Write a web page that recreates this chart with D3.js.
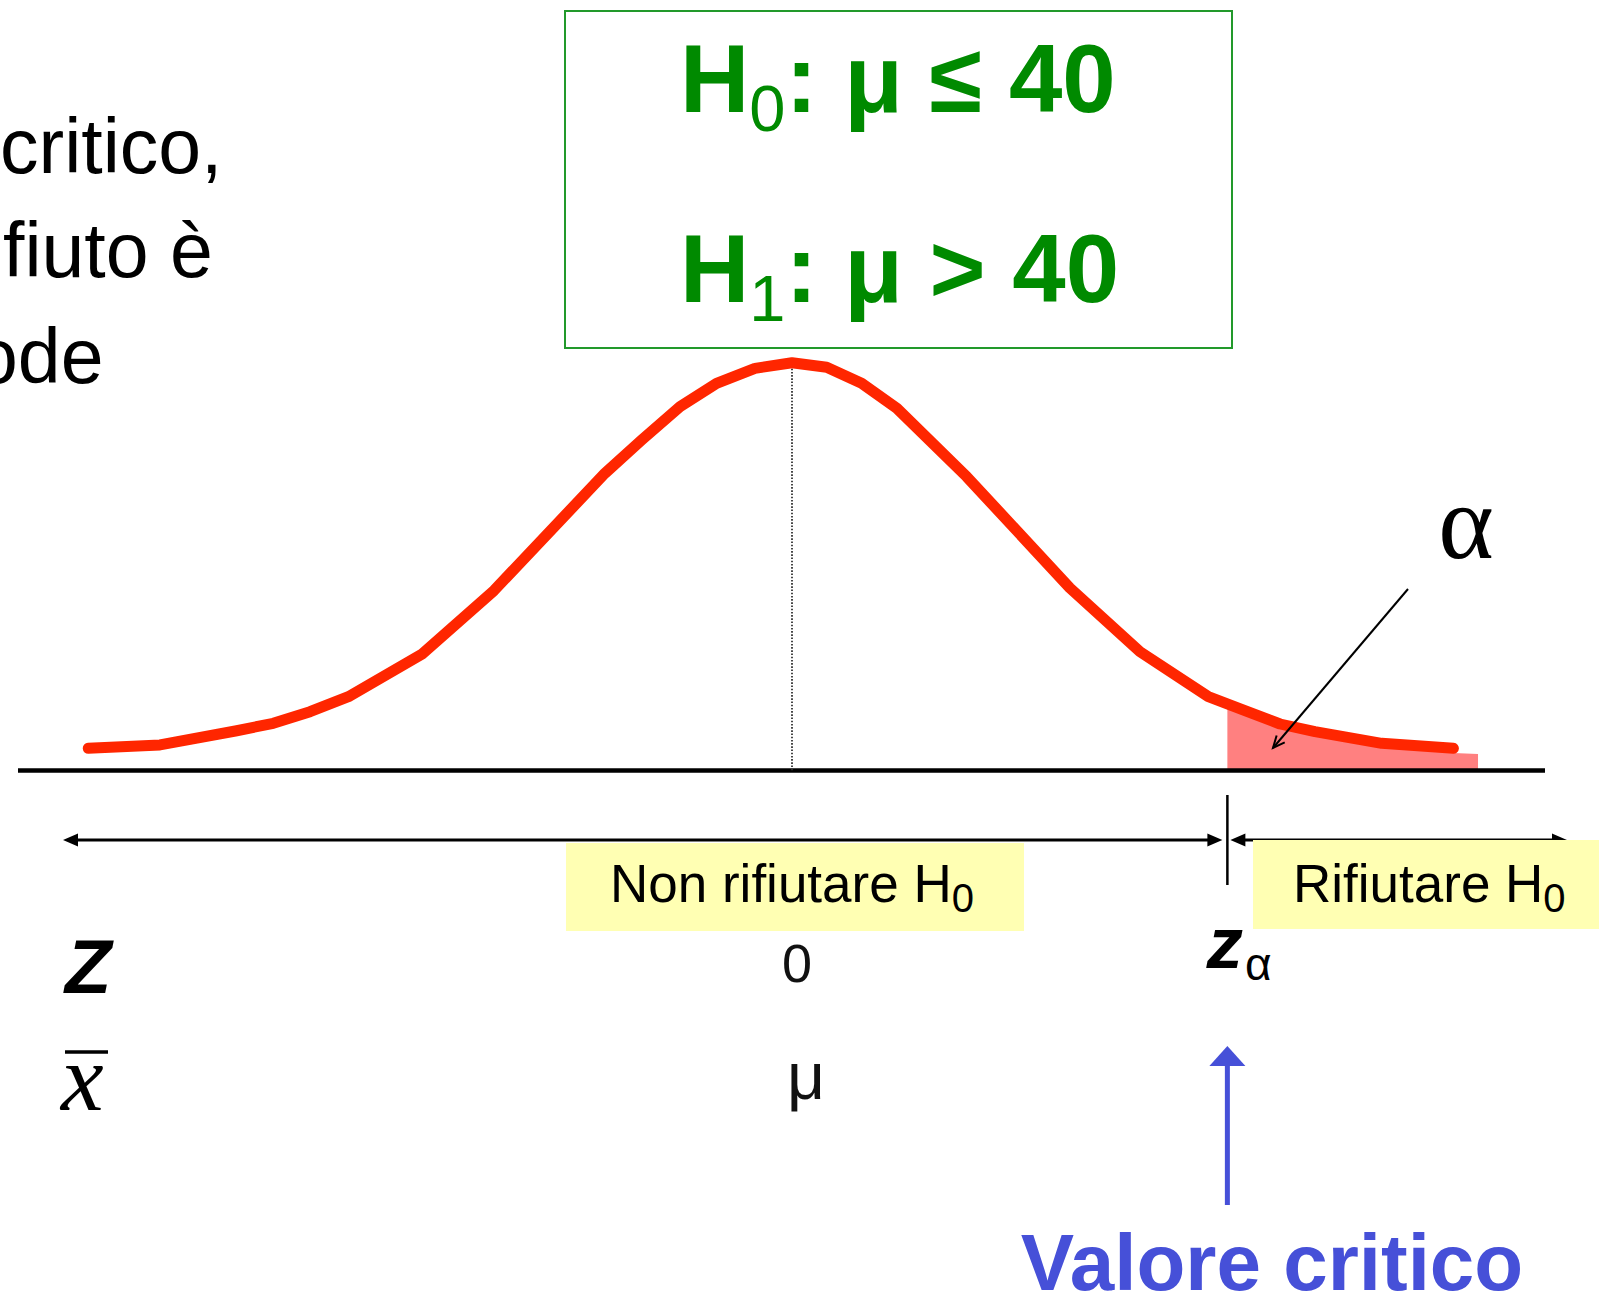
<!DOCTYPE html>
<html>
<head>
<meta charset="utf-8">
<script src="https://cdn.jsdelivr.net/npm/d3@7"></script>
<style>
  html, body { margin: 0; padding: 0; background: #ffffff; }
  svg { display: block; }
</style>
</head>
<body>
<svg id="chart" width="1599" height="1294"></svg>
<script>
// ---------- data ----------
// normal curve, z in standard units, density height
const curveZ = [-2.659, -2.388, -2.098, -1.960, -1.821, -1.676, -1.399, -1.126, -0.707, -0.568, -0.423, -0.285, -0.140, 0.000,
                0.131, 0.263, 0.396, 0.660, 1.050, 1.315, 1.573, 1.699, 1.844, 1.976, 2.228, 2.499];
const curveD = [0.0217, 0.0250, 0.0389, 0.0462, 0.0575, 0.0722, 0.1137, 0.1761, 0.2908, 0.3234, 0.3560, 0.3789, 0.3935, 0.3990,
                0.3945, 0.3789, 0.3544, 0.2875, 0.1786, 0.1162, 0.0722, 0.0599, 0.0455, 0.0380, 0.0266, 0.0217];
// rejection tail (alpha area)
const tailZ = [1.645, 1.699, 1.844, 1.976, 2.228, 2.499, 2.592];
const tailD = [0.0650, 0.0599, 0.0455, 0.0380, 0.0240, 0.0171, 0.0161];
const zAlpha = 1.645;
const zTickLabels = ["0", "z", "α"];
const regionLabels = ["Non rifiutare H", "Rifiutare H"];
const hypotheses = [["H", "0", ": μ ≤ 40"], ["H", "1", ": μ > 40"]];
const sideText = ["critico,", "fiuto è", "ode"];

// ---------- layout ----------
const svg = d3.select("#chart");
const x = d3.scaleLinear().domain([-3, 3]).range([-2, 1586]);
const y = d3.scaleLinear().domain([0, 0.4]).range([770.5, 361.7]);
const axisY = y(0);
const sans = "'Liberation Sans', Arial, Helvetica, sans-serif";
const serif = "'Liberation Serif', 'Times New Roman', serif";

// left cut-off paragraph
const sideX = [0, 3, -25];
const sideBase = [173, 277, 383];
svg.append("g").selectAll("text").data(sideText).join("text")
  .attr("x", (d, i) => sideX[i]).attr("y", (d, i) => sideBase[i])
  .attr("font-family", sans).attr("font-size", 77).attr("fill", "#000")
  .text(d => d);

// hypotheses box
svg.append("rect").attr("x", 565).attr("y", 11).attr("width", 667).attr("height", 337)
  .attr("fill", "none").attr("stroke", "#22992b").attr("stroke-width", 2);
const hBase = [112, 302];
hypotheses.forEach((h, i) => {
  const t = svg.append("text").attr("x", 680).attr("y", hBase[i])
    .attr("font-family", sans).attr("font-weight", "bold").attr("font-size", 96).attr("fill", "#008a00");
  t.append("tspan").text(h[0]);
  t.append("tspan").attr("font-size", 65).attr("font-weight", "normal").attr("dy", 19).text(h[1]);
  t.append("tspan").attr("dy", -19).text(h[2]);
});

// tail area
const tail = tailZ.map((z, i) => ({ z, d: tailD[i] }));
svg.append("path").datum(tail)
  .attr("d", d3.area().x(d => x(d.z)).y0(axisY).y1(d => y(d.d)))
  .attr("fill", "#ff8080");

// baseline
svg.append("line").attr("x1", 18).attr("x2", 1545).attr("y1", axisY).attr("y2", axisY)
  .attr("stroke", "#000").attr("stroke-width", 4.5);

// dotted mean line
svg.append("line").attr("x1", x(0)).attr("x2", x(0)).attr("y1", y(curveD[13]) + 6).attr("y2", axisY)
  .attr("stroke", "#333").attr("stroke-width", 1.8).attr("stroke-dasharray", "1.6,1.6");

// curve
const pts = curveZ.map((z, i) => ({ z, d: curveD[i] }));
svg.append("path").datum(pts)
  .attr("d", d3.line().x(d => x(d.z)).y(d => y(d.d)))
  .attr("fill", "none").attr("stroke", "#ff2600").attr("stroke-width", 11)
  .attr("stroke-linecap", "round").attr("stroke-linejoin", "round");

// alpha pointer
const ax1 = 1408, ay1 = 589, ax2 = 1273, ay2 = 748;
svg.append("line").attr("x1", ax1).attr("y1", ay1).attr("x2", ax2).attr("y2", ay2)
  .attr("stroke", "#000").attr("stroke-width", 2);
(function () {
  const ang = Math.atan2(ay2 - ay1, ax2 - ax1), L = 13, W = 0.42;
  const p1 = [ax2 - L * Math.cos(ang - W), ay2 - L * Math.sin(ang - W)];
  const p2 = [ax2 - L * Math.cos(ang + W), ay2 - L * Math.sin(ang + W)];
  svg.append("path").attr("d", `M${p1}L${ax2},${ay2}L${p2}`)
    .attr("fill", "none").attr("stroke", "#000").attr("stroke-width", 2);
})();
svg.append("text").attr("x", 1466).attr("y", 558).attr("text-anchor", "middle")
  .attr("font-family", serif).attr("font-size", 106).attr("fill", "#000").text("α");

// region arrows
const arrowY = 840;
const xa = x(zAlpha);
function head(tipX, tipY, dir, color, len, hw) {
  svg.append("path")
    .attr("d", `M${tipX},${tipY}L${tipX - dir * len},${tipY - hw}L${tipX - dir * len},${tipY + hw}Z`)
    .attr("fill", color);
}
svg.append("line").attr("x1", 70).attr("x2", xa - 12).attr("y1", arrowY).attr("y2", arrowY)
  .attr("stroke", "#000").attr("stroke-width", 3.2);
head(63, arrowY, -1, "#000", 15, 6.5);
head(xa - 5, arrowY, 1, "#000", 15, 6.5);
svg.append("line").attr("x1", xa + 12).attr("x2", 1558).attr("y1", arrowY).attr("y2", arrowY)
  .attr("stroke", "#000").attr("stroke-width", 3.2);
head(xa + 3, arrowY, -1, "#000", 15, 6.5);
head(1567, arrowY, 1, "#000", 15, 6.5);
svg.append("line").attr("x1", xa).attr("x2", xa).attr("y1", 795).attr("y2", 885)
  .attr("stroke", "#000").attr("stroke-width", 2.5);

// region labels
const boxX = [566, 1253], boxW = [458, 346], boxY = [843, 840], boxH = [88, 89], textX = [610, 1293];
regionLabels.forEach((lab, i) => {
  svg.append("rect").attr("x", boxX[i]).attr("y", boxY[i]).attr("width", boxW[i]).attr("height", boxH[i])
    .attr("fill", "#ffffb3");
  const t = svg.append("text").attr("x", textX[i]).attr("y", 902)
    .attr("font-family", sans).attr("font-size", 53).attr("fill", "#000");
  t.append("tspan").text(lab);
  t.append("tspan").attr("font-size", 40).attr("dy", 10).text("0");
});

// scale labels
svg.append("text").attr("x", x(0) + 5).attr("y", 982).attr("text-anchor", "middle")
  .attr("font-family", sans).attr("font-size", 54).attr("fill", "#111").text(zTickLabels[0]);
const zt = svg.append("text").attr("x", xa - 21).attr("y", 968)
  .attr("font-family", sans).attr("font-size", 73).attr("fill", "#000");
zt.append("tspan").attr("font-weight", "bold").attr("font-style", "italic").text(zTickLabels[1]);
zt.append("tspan").attr("font-size", 46).attr("dy", 12).attr("dx", 2).text(zTickLabels[2]);

svg.append("text").attr("x", x(0) + 14).attr("y", 1099).attr("text-anchor", "middle")
  .attr("font-family", sans).attr("font-size", 66).attr("fill", "#111").text("μ");

svg.append("text").attr("x", 65).attr("y", 993)
  .attr("font-family", sans).attr("font-size", 76).attr("font-weight", "bold").attr("font-style", "italic")
  .attr("fill", "#000").text("Z");
svg.append("text").attr("x", 61).attr("y", 1110)
  .attr("font-family", serif).attr("font-size", 96).attr("font-style", "italic")
  .attr("fill", "#000").text("x");
svg.append("line").attr("x1", 65).attr("x2", 108).attr("y1", 1052).attr("y2", 1052)
  .attr("stroke", "#000").attr("stroke-width", 3.5);

// critical value pointer
const blue = "#4650d8";
svg.append("line").attr("x1", xa).attr("x2", xa).attr("y1", 1205).attr("y2", 1062)
  .attr("stroke", blue).attr("stroke-width", 5);
svg.append("path").attr("d", `M${xa},1046L${xa - 18},1066L${xa + 18},1066Z`).attr("fill", blue);
svg.append("text").attr("x", 1272).attr("y", 1290).attr("text-anchor", "middle")
  .attr("font-family", sans).attr("font-size", 80).attr("font-weight", "bold").attr("fill", blue)
  .text("Valore critico");
</script>
</body>
</html>
